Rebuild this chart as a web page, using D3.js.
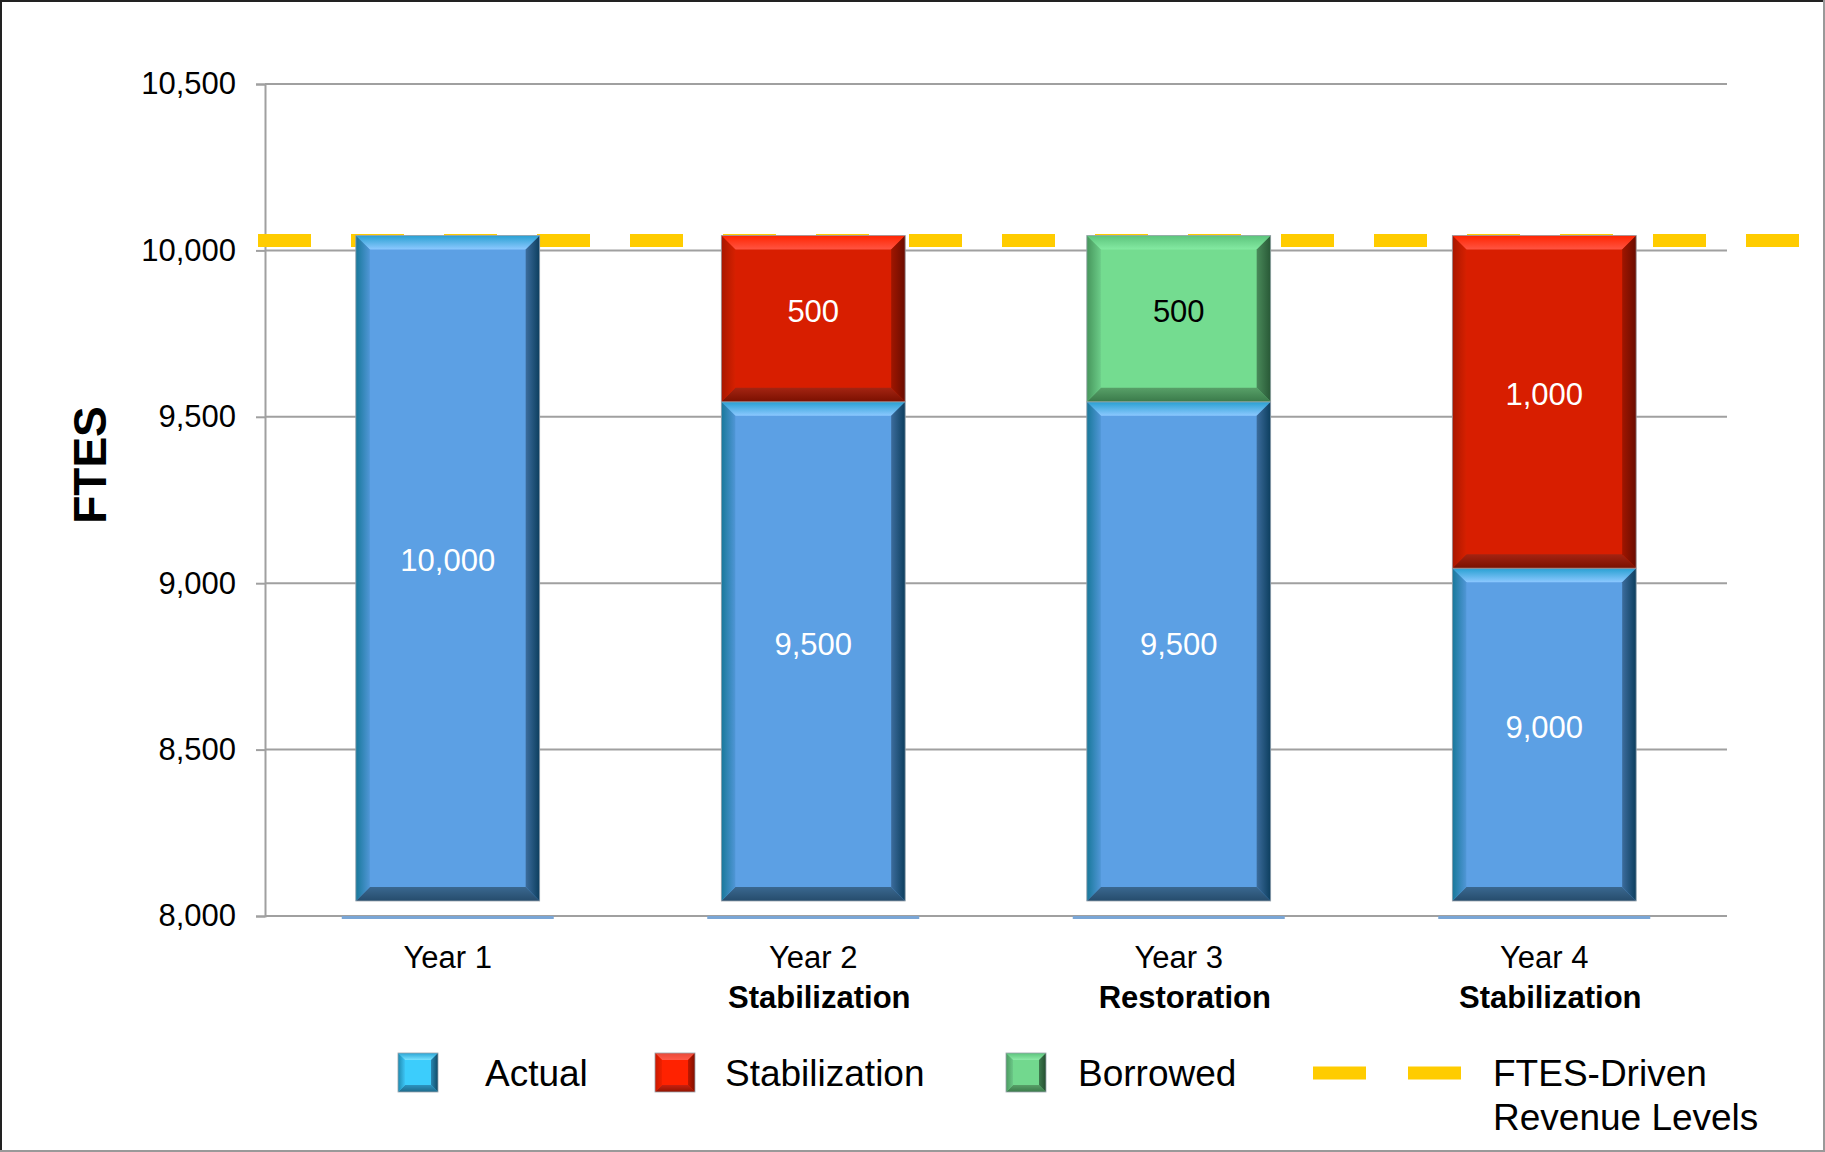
<!DOCTYPE html>
<html>
<head>
<meta charset="utf-8">
<script src="https://cdn.jsdelivr.net/npm/d3@7"></script>
<style>
  body { margin: 0; background: #fff; }
  svg { display: block; font-family: "Liberation Sans", Arial, sans-serif; }
</style>
</head>
<body>
<svg id="chart" width="1825" height="1152"></svg>
<script>
// chart values
let categories = ['Year 1', 'Year 2', 'Year 3', 'Year 4']
let phaseLabels = ['', 'Stabilization', 'Restoration', 'Stabilization']
let actual = [10000, 9500, 9500, 9000]
let stabilization = [0, 500, 0, 1000]
let borrowed = [0, 0, 500, 0]
let revenueLevel = 10030
let yTicks = [8000, 8500, 9000, 9500, 10000, 10500]

let seriesKeys = ['actual', 'stabilization', 'borrowed']
let seriesNames = ['Actual', 'Stabilization', 'Borrowed']

let rows = categories.map((c, i) => ({
  cat: c,
  actual: actual[i],
  stabilization: stabilization[i],
  borrowed: borrowed[i]
}))

// bevel palettes: main, top(outer,inner), left, right, bottom
let palette = {
  actual: { main: '#5ca0e4', top: ['#28a0d2', '#8cc8ff'], left: ['#18789a', '#5096d6'], right: ['#0c3e5e', '#3c6c9c'], bottom: ['#264c6c', '#3a6890'], label: '#fff' },
  stabilization: { main: '#d81e00', top: ['#ff2400', '#ff5442'], left: ['#a81600', '#d62000'], right: ['#6a0c00', '#a01600'], bottom: ['#7a1000', '#a42412'], label: '#fff' },
  borrowed: { main: '#74dc90', top: ['#5cc47c', '#84eaa2'], left: ['#46965c', '#6ccc88'], right: ['#285836', '#4a8a5a'], bottom: ['#3a7a4a', '#58a068'], label: '#000' }
}
let legendPalette = {
  actual: { main: '#3ccdfc', top: ['#2aa6d6', '#7ae2ff'], left: ['#1f8ab0', '#3cc4f4'], right: ['#0e4a66', '#2a86b0'], bottom: ['#1e6a8a', '#2c94c0'] },
  stabilization: { main: '#ff2200', top: ['#e84a3a', '#ff5a48'], left: ['#c81a00', '#f02000'], right: ['#801000', '#c01800'], bottom: ['#901400', '#c82010'] },
  borrowed: { main: '#72d88e', top: ['#5cc47c', '#8eeaa8'], left: ['#4a9a60', '#6cc888'], right: ['#244e30', '#3e7a4e'], bottom: ['#3a7a4a', '#58a068'] }
}

let svg = d3.select('#chart')
let defs = svg.append('defs')

let margin = { left: 265, right: 98, top: 84, bottom: 236 }
let W = 1825, H = 1152

let x = d3.scaleBand().domain(categories).range([margin.left, W - margin.right]).padding(0)
let y = d3.scaleLinear().domain([8000, 10500]).range([H - margin.bottom, margin.top])

let barLift = 15  // bars in the source sit slightly above the axis baseline

// gradients
let makeGrad = (id, c, dir) => {
  let g = defs.append('linearGradient').attr('id', id)
  if (dir === 'top') g.attr('x1', 0).attr('y1', 0).attr('x2', 0).attr('y2', 1)
  if (dir === 'bottom') g.attr('x1', 0).attr('y1', 1).attr('x2', 0).attr('y2', 0)
  if (dir === 'left') g.attr('x1', 0).attr('y1', 0).attr('x2', 1).attr('y2', 0)
  if (dir === 'right') g.attr('x1', 1).attr('y1', 0).attr('x2', 0).attr('y2', 0)
  g.append('stop').attr('offset', '0%').attr('stop-color', c[0])
  g.append('stop').attr('offset', '100%').attr('stop-color', c[1])
}
let addPalette = (prefix, pal) => {
  Object.keys(pal).forEach(k => {
    ['top', 'left', 'right', 'bottom'].forEach(side => makeGrad(prefix + k + '-' + side, pal[k][side], side))
  })
}
addPalette('bar-', palette)
addPalette('leg-', legendPalette)

let bevelBox = (g, x0, y0, x1, y1, b, key, prefix, pal) => {
  b = Math.min(b, (y1 - y0) / 2, (x1 - x0) / 2)
  g.append('rect').attr('x', x0).attr('y', y0).attr('width', x1 - x0).attr('height', y1 - y0)
    .attr('fill', pal[key].main)
  let sides = {
    top: [[x0, y0], [x1, y0], [x1 - b, y0 + b], [x0 + b, y0 + b]],
    bottom: [[x0, y1], [x1, y1], [x1 - b, y1 - b], [x0 + b, y1 - b]],
    left: [[x0, y0], [x0 + b, y0 + b], [x0 + b, y1 - b], [x0, y1]],
    right: [[x1, y0], [x1 - b, y0 + b], [x1 - b, y1 - b], [x1, y1]]
  }
  Object.keys(sides).forEach(s => {
    g.append('polygon').attr('points', sides[s].map(p => p.join(',')).join(' '))
      .attr('fill', 'url(#' + prefix + key + '-' + s + ')')
  })
  g.append('rect').attr('x', x0).attr('y', y0).attr('width', x1 - x0).attr('height', y1 - y0)
    .attr('fill', 'none').attr('stroke', '#9aa4ac').attr('stroke-width', 0.8)
}

// frame
svg.append('line').attr('x1', 1).attr('y1', 0).attr('x2', 1).attr('y2', H).attr('stroke', '#222').attr('stroke-width', 2)
svg.append('line').attr('x1', 0).attr('y1', 1).attr('x2', W).attr('y2', 1).attr('stroke', '#222').attr('stroke-width', 2)
svg.append('line').attr('x1', W - 1).attr('y1', 0).attr('x2', W - 1).attr('y2', H).attr('stroke', '#999').attr('stroke-width', 2)
svg.append('line').attr('x1', 0).attr('y1', H - 1).attr('x2', W).attr('y2', H - 1).attr('stroke', '#999').attr('stroke-width', 2)

// y axis with gridlines
let yAxis = svg.append('g')
  .attr('transform', `translate(${margin.left},0)`)
  .call(d3.axisLeft(y).tickValues(yTicks).tickFormat(d3.format(',')).tickSize(9).tickPadding(20))
yAxis.select('.domain').attr('stroke', '#a0a0a0').attr('stroke-width', 2)
yAxis.selectAll('.tick line').attr('stroke', '#a0a0a0').attr('stroke-width', 2)
yAxis.selectAll('.tick text').attr('font-size', 31).attr('fill', '#000')
  .attr('font-family', '"Liberation Sans", Arial, sans-serif')

svg.append('g').selectAll('line').data(yTicks).enter().append('line')
  .attr('x1', margin.left).attr('x2', W - margin.right)
  .attr('y1', d => y(d)).attr('y2', d => y(d))
  .attr('stroke', '#a0a0a0').attr('stroke-width', 2)

// y title
svg.append('text')
  .attr('transform', `translate(106,465) rotate(-90)`)
  .attr('text-anchor', 'middle')
  .attr('font-size', 46).attr('font-weight', 'bold')
  .text('FTES')

// revenue level dashed line (behind bars)
svg.append('line')
  .attr('x1', margin.left - 7).attr('x2', W - 20)
  .attr('y1', y(revenueLevel)).attr('y2', y(revenueLevel))
  .attr('stroke', '#ffcc00').attr('stroke-width', 13)
  .attr('stroke-dasharray', '53 40')

// baseline shadows under each bar
svg.append('g').selectAll('rect').data(categories).enter().append('rect')
  .attr('x', d => x(d) + x.bandwidth() * 0.21)
  .attr('width', x.bandwidth() * 0.58)
  .attr('y', y(8000))
  .attr('height', 3)
  .attr('fill', '#7aa6d6')

// stacked bars
let stacked = d3.stack().keys(seriesKeys)(rows)
let barW = x.bandwidth() * 0.503
let bars = svg.append('g')
stacked.forEach(layer => {
  let key = layer.key
  layer.forEach(seg => {
    if (seg[1] - seg[0] <= 0) return
    let cx = x(seg.data.cat) + x.bandwidth() / 2
    let x0 = cx - barW / 2, x1 = cx + barW / 2
    let lo = Math.max(seg[0], y.domain()[0])
    let y0 = y(seg[1]) - barLift, y1 = y(lo) - barLift
    let g = bars.append('g')
    bevelBox(g, x0, y0, x1, y1, 14, key, 'bar-', palette)
    g.append('text')
      .attr('x', cx).attr('y', (y0 + y1) / 2 - 8)
      .attr('dy', '0.36em')
      .attr('text-anchor', 'middle')
      .attr('font-size', 31)
      .attr('fill', palette[key].label)
      .text(d3.format(',')(seg[1] - seg[0]))
  })
})

// category labels
let xl = svg.append('g')
categories.forEach((c, i) => {
  let cx = x(c) + x.bandwidth() / 2
  xl.append('text').attr('x', cx).attr('y', y(8000) + 52)
    .attr('text-anchor', 'middle').attr('font-size', 31).text(c)
  if (phaseLabels[i]) {
    xl.append('text').attr('x', cx + 6).attr('y', y(8000) + 92)
      .attr('text-anchor', 'middle').attr('font-size', 31).attr('font-weight', 'bold').text(phaseLabels[i])
  }
})

// legend
let legendY = 1073
let legendX = [398, 655, 1006]
let legendTextX = [485, 725, 1078]
let leg = svg.append('g')
seriesKeys.forEach((k, i) => {
  let g = leg.append('g')
  bevelBox(g, legendX[i], legendY - 20, legendX[i] + 40, legendY + 19, 7, k, 'leg-', legendPalette)
  g.append('text').attr('x', legendTextX[i]).attr('y', legendY).attr('dy', '0.36em')
    .attr('font-size', 37).text(seriesNames[i])
})
leg.append('line')
  .attr('x1', 1313).attr('x2', 1461).attr('y1', legendY).attr('y2', legendY)
  .attr('stroke', '#ffcc00').attr('stroke-width', 13).attr('stroke-dasharray', '53 42')
leg.append('text').attr('x', 1493).attr('y', legendY).attr('dy', '0.36em')
  .attr('font-size', 37).text('FTES-Driven')
leg.append('text').attr('x', 1493).attr('y', legendY + 44).attr('dy', '0.36em')
  .attr('font-size', 37).text('Revenue Levels')
</script>
</body>
</html>
